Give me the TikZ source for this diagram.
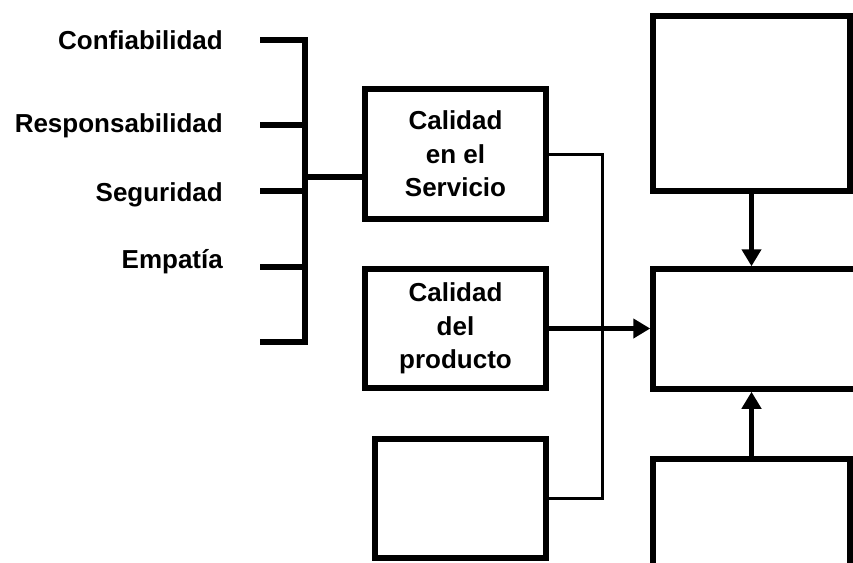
\documentclass[tikz,border=0pt]{standalone}
\usepackage{fontspec}
\setmainfont{Liberation Sans}
\usetikzlibrary{arrows.meta}
\begin{document}
\begin{tikzpicture}[x=1pt,y=-1pt,
  boxstyle/.style={draw=black,line width=5.5pt,rectangle,inner sep=0pt,fill=white,
     font=\fontsize{26}{33.5}\selectfont\bfseries,align=center},
  lbl/.style={font=\fontsize{26}{31}\selectfont\bfseries,inner sep=0pt,anchor=base east},
  thick line/.style={line width=5.5pt},
  thinline/.style={line width=3pt},
  arr/.style={line width=5pt,-{Triangle[length=17pt,width=19pt]}}
]
\useasboundingbox (0,0) rectangle (853,562);
\clip (0,0) rectangle (853,562);
\fill[white] (0,0) rectangle (853,562);

% labels
\node[lbl] (l1) at (223,49) {Confiabilidad};
\node[lbl] (l2) at (223,132) {Responsabilidad};
\node[lbl] (l3) at (223,201) {Seguridad};
\node[lbl] (l4) at (223,268) {Empatía};

% bracket
\coordinate (t1) at (260,40);
\coordinate (t2) at (260,125);
\coordinate (t3) at (260,191);
\coordinate (t4) at (260,267);
\coordinate (t5) at (260,342);
\coordinate (v1) at (305,40);
\coordinate (v5) at (305,342);
\coordinate (bm) at (305,177);
\draw[thick line,line join=miter] (t1) -- (v1) -- (v5) -- (t5);
\draw[thick line] (t2) -- (t2 -| v1);
\draw[thick line] (t3) -- (t3 -| v1);
\draw[thick line] (t4) -- (t4 -| v1);

% boxes
\node[boxstyle,minimum width=181pt,minimum height=130pt] (b1) at (455.5,154) {Calidad\\en el\\Servicio};
\node[boxstyle,minimum width=181pt,minimum height=119pt] (b2) at (455.5,328.5) {Calidad\\del\\producto};
\node[boxstyle,minimum width=171pt,minimum height=119pt] (b3) at (460.5,498.5) {};
\node[boxstyle,minimum width=197pt,minimum height=175pt] (b4) at (751.5,103.5) {};
\node[boxstyle,minimum width=247pt,minimum height=120pt] (b5) at (776.5,329) {};
\node[boxstyle,minimum width=197pt,minimum height=162pt] (b6) at (751.5,540) {};

% connectors
\draw[thick line] (bm) -- (bm -| b1.west);
\coordinate (j) at (602,154);
\draw[thinline] (j -| b1.east) -- (j) -- (j |- b3.east) -- (b3.east);
\draw[arr] (b2.east) -- (b2.east -| b5.west);
\draw[arr] (b4.south) -- (b4.south |- b5.north);
\draw[arr] (b6.north) -- (b6.north |- b5.south);
\end{tikzpicture}
\end{document}
